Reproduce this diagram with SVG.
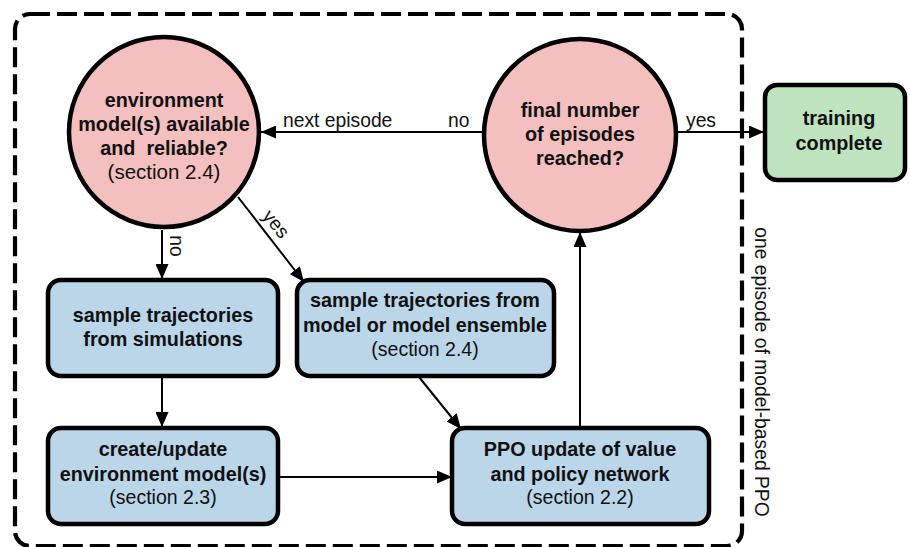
<svg xmlns="http://www.w3.org/2000/svg" width="910" height="547" viewBox="0 0 910 547">
<style>
.b{font-family:"Liberation Sans",Arial,sans-serif;font-weight:bold;font-size:19.8px;fill:#111;text-anchor:middle}
.r{font-family:"Liberation Sans",Arial,sans-serif;font-size:19.5px;fill:#111;text-anchor:middle}
.l{font-family:"Liberation Sans",Arial,sans-serif;font-size:19.3px;fill:#111}
.circ{fill:#f4bfbf;stroke:#000;stroke-width:4.5}
.box{fill:#bbd5e9;stroke:#000;stroke-width:4.5}
.gbox{fill:#bfe3bf;stroke:#000;stroke-width:4.5}
.c{stroke:#000;stroke-width:2;fill:none;marker-end:url(#ah)}
</style>
<defs>
<marker id="ah" markerUnits="userSpaceOnUse" markerWidth="15" markerHeight="13" refX="15" refY="6.5" orient="auto">
<path d="M0,0 L15,6.5 L0,13 z" fill="#000"/>
</marker>
</defs>
<rect x="15" y="14" width="727" height="532" rx="15" fill="none" stroke="#000" stroke-width="4.2" stroke-dasharray="20,7"/>
<text class="l" transform="translate(755,372) rotate(90)" text-anchor="middle">one episode of model-based PPO</text>
<g id="connectors">
<line class="c" x1="483" y1="132" x2="261" y2="132"/>
<line class="c" x1="678" y1="132" x2="764" y2="132"/>
<line class="c" x1="162" y1="230" x2="162" y2="279"/>
<line class="c" x1="238" y1="197" x2="304" y2="282"/>
<line class="c" x1="162" y1="377" x2="162" y2="427"/>
<line class="c" x1="419" y1="377" x2="461" y2="429"/>
<line class="c" x1="279" y1="477" x2="452" y2="477"/>
<line class="c" x1="580" y1="427" x2="580" y2="232"/>
<text class="l" x="283" y="127">next episode</text>
<text class="l" x="448" y="127">no</text>
<text class="l" x="686" y="127">yes</text>
<text class="l" transform="translate(170,246) rotate(90)" text-anchor="middle">no</text>
<text class="l" transform="translate(271,228) rotate(51)" text-anchor="middle">yes</text>
</g>
<g id="env-check">
<circle class="circ" cx="164" cy="132" r="95"/>
<text class="b" x="164" y="107">environment</text>
<text class="b" x="164" y="131">model(s) available</text>
<text class="b" x="164" y="155">and&#160; reliable?</text>
<text class="r" x="164" y="179" style="font-size:20.5px">(section 2.4)</text>
</g>
<g id="final-check">
<circle class="circ" cx="580" cy="135" r="96"/>
<text class="b" x="580" y="117">final number</text>
<text class="b" x="580" y="141">of episodes</text>
<text class="b" x="580" y="165">reached?</text>
</g>
<g id="training-complete">
<rect class="gbox" x="765" y="85" width="140" height="95" rx="12"/>
<text class="b" x="839" y="125">training</text>
<text class="b" x="839" y="150">complete</text>
</g>
<g id="sample-sim">
<rect class="box" x="48" y="280" width="230" height="96" rx="13"/>
<text class="b" x="163" y="322">sample trajectories</text>
<text class="b" x="163" y="346">from simulations</text>
</g>
<g id="sample-model">
<rect class="box" x="297" y="280" width="257" height="96" rx="13"/>
<text class="b" x="425" y="307">sample trajectories from</text>
<text class="b" x="425" y="332">model or model ensemble</text>
<text class="r" x="425" y="356">(section 2.4)</text>
</g>
<g id="create-update">
<rect class="box" x="48" y="428" width="230" height="96" rx="13"/>
<text class="b" x="163" y="456">create/update</text>
<text class="b" x="163" y="481">environment model(s)</text>
<text class="r" x="163" y="504">(section 2.3)</text>
</g>
<g id="ppo-update">
<rect class="box" x="452" y="428" width="257" height="96" rx="13"/>
<text class="b" x="580" y="456">PPO update of value</text>
<text class="b" x="580" y="481">and policy network</text>
<text class="r" x="580" y="504">(section 2.2)</text>
</g>
</svg>
